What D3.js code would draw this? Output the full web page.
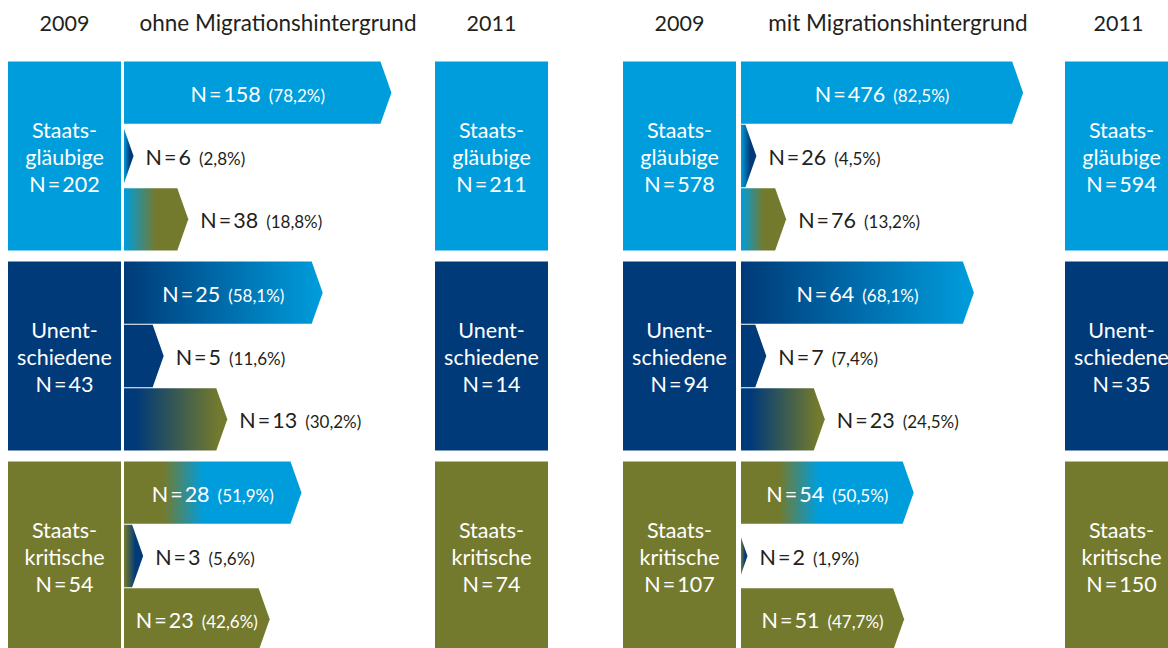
<!DOCTYPE html>
<html>
<head>
<meta charset="utf-8">
<script src="https://cdn.jsdelivr.net/npm/d3@7"></script>
<style>
  body { margin: 0; background: #fff; }
  text { font-family: Lato, "Open Sans", sans-serif; font-weight: 400; }
</style>
</head>
<body>
<script>
// categories (label lines in the boxes)
let categories = [["Staats-", "gläubige"], ["Unent-", "schiedene"], ["Staats-", "kritische"]]
let years = ["2009", "2011"]
let panelTitles = ["ohne Migrationshintergrund", "mit Migrationshintergrund"]

// group sizes
let ohne2009 = [202, 43, 54]
let ohne2011 = [211, 14, 74]
let mit2009 = [578, 94, 107]
let mit2011 = [594, 35, 150]

// flows: row = 2009 group, column = 2011 group
let ohneFlowN = [[158, 6, 38], [25, 5, 13], [28, 3, 23]]
let ohneFlowPct = [[78.2, 2.8, 18.8], [58.1, 11.6, 30.2], [51.9, 5.6, 42.6]]
let mitFlowN = [[476, 26, 76], [64, 7, 23], [54, 2, 51]]
let mitFlowPct = [[82.5, 4.5, 13.2], [68.1, 7.4, 24.5], [50.5, 1.9, 47.7]]

let colors = ["#009ddd", "#003a78", "#747a2d"]

const W = 1168, H = 648
const boxW = 113, tip = 11

let svg = d3.select("body").append("svg")
  .attr("width", W)
  .attr("height", H)

let defs = svg.append("defs")

let yGroup = d3.scaleBand().domain(d3.range(3)).range([61.5, 650.5]).paddingInner(0.055)
let ySub = d3.scaleBand().domain(d3.range(3)).range([0, yGroup.bandwidth()]).paddingInner(0.016)
let x = d3.scaleLinear().domain([0, 100]).range([0, 342])

// gradient stops per transition (from -> to)
function stopsFor(i, j) {
  if (i === j) return null
  let s = {
    "0-1": [0, 0.6],
    "0-2": [0, 0.5],
    "1-0": [0, 1],
    "1-2": [0.12, 0.92],
    "2-0": [0.22, 0.45],
    "2-1": [0, 0.6]
  }
  return s[`${i}-${j}`]
}

function arrowPath(x0, y0, w, h) {
  let ym = y0 + h / 2
  if (w >= tip) {
    return `M${x0},${y0}H${x0 + w - tip}L${x0 + w},${ym}L${x0 + w - tip},${y0 + h}H${x0}Z`
  }
  let half = h / 2 * w / tip
  return `M${x0},${ym - half}L${x0 + w},${ym}L${x0},${ym + half}Z`
}

function fmt(v) {
  return String(v).replace(".", ",")
}

// "N = value" with tight spacing around the equals sign
function addN(t, n) {
  t.append("tspan").text("N")
  t.append("tspan").attr("dx", 2).text("=")
  t.append("tspan").attr("dx", 2).text(n)
}

function drawBox(g, x0, i, n) {
  let y0 = yGroup(i)
  let h = yGroup.bandwidth()
  g.append("rect")
    .attr("x", x0).attr("y", y0)
    .attr("width", boxW).attr("height", h)
    .attr("fill", colors[i])
  let cy = y0 + h / 2
  let offs = [-18.5, 8.5, 35.5]
  for (let k = 0; k < 3; k++) {
    let t = g.append("text")
      .attr("x", x0 + boxW / 2)
      .attr("y", cy + offs[k])
      .attr("text-anchor", "middle")
      .attr("fill", "#fff")
      .attr("font-size", 21.5)
    if (k < 2) t.text(categories[i][k])
    else addN(t, n)
  }
}

function drawPanel(p, cfg) {
  let g = svg.append("g")

  // headers
  let heads = [
    {t: years[0], x: cfg.x2009 + boxW / 2},
    {t: panelTitles[p], x: cfg.titleX},
    {t: years[1], x: cfg.x2011 + boxW / 2 - cfg.yearShift}
  ]
  g.selectAll(null).data(heads).enter()
    .append("text")
    .attr("x", d => d.x)
    .attr("y", 31)
    .attr("text-anchor", "middle")
    .attr("fill", "#231f20")
    .attr("font-size", (d, k) => k === 1 ? 22.5 : 21.5)
    .text(d => d.t)

  for (let i = 0; i < 3; i++) {
    drawBox(g, cfg.x2009, i, cfg.n2009[i])
    drawBox(g, cfg.x2011, i, cfg.n2011[i])

    for (let j = 0; j < 3; j++) {
      let pct = cfg.pct[i][j]
      let w = x(pct)
      let y0 = yGroup(i) + ySub(j)
      let h = ySub.bandwidth()
      let fill = colors[i]
      let st = stopsFor(i, j)
      if (st) {
        let id = `grad-${p}-${i}-${j}`
        let lg = defs.append("linearGradient")
          .attr("id", id)
          .attr("x1", 0).attr("x2", 1).attr("y1", 0).attr("y2", 0)
        lg.append("stop").attr("offset", st[0]).attr("stop-color", colors[i])
        lg.append("stop").attr("offset", st[1]).attr("stop-color", colors[j])
        fill = `url(#${id})`
      }
      g.append("path")
        .attr("d", arrowPath(cfg.xArrow, y0, w, h))
        .attr("fill", fill)

      let inside = pct >= 40
      let t = g.append("text")
        .attr("y", y0 + h / 2 + 9)
        .attr("font-size", 21.5)
        .attr("fill", inside ? "#fff" : "#231f20")
      if (inside) {
        t.attr("x", cfg.xArrow + w / 2).attr("text-anchor", "middle")
      } else {
        t.attr("x", cfg.xArrow + w + 12).attr("text-anchor", "start")
      }
      addN(t, cfg.n[i][j])
      t.append("tspan").attr("dx", 8).attr("font-size", 17).text(`(${fmt(pct)}%)`)
    }
  }
}

drawPanel(0, {
  x2009: 8, xArrow: 124, x2011: 435, titleX: 278, yearShift: 0,
  n2009: ohne2009, n2011: ohne2011, n: ohneFlowN, pct: ohneFlowPct
})
drawPanel(1, {
  x2009: 623, xArrow: 741, x2011: 1065, titleX: 898, yearShift: 3,
  n2009: mit2009, n2011: mit2011, n: mitFlowN, pct: mitFlowPct
})
</script>
</body>
</html>
